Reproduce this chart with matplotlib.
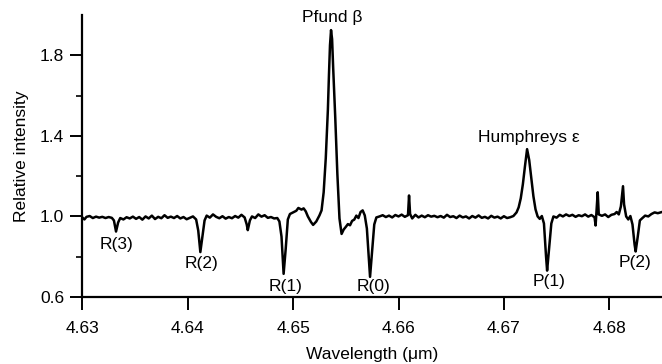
import matplotlib
matplotlib.use('Agg')
import matplotlib.pyplot as plt

# spectrum (wavelength in um, relative intensity)
wavelength = [
    4.6300, 4.6302, 4.6304, 4.6307, 4.6310, 4.6313, 4.6316, 4.6319, 4.6322, 4.6325,
    4.6328, 4.6330, 4.6332, 4.6334, 4.6336, 4.6339, 4.6342, 4.6345, 4.6348, 4.6351,
    4.6354, 4.6357, 4.6360, 4.6363, 4.6366, 4.6369, 4.6372, 4.6375, 4.6378, 4.6381,
    4.6384, 4.6387, 4.6390, 4.6393, 4.6396, 4.6399, 4.6402, 4.6405, 4.6408, 4.6410,
    4.6412, 4.6414, 4.6416, 4.6418, 4.6421, 4.6424, 4.6427, 4.6430, 4.6433, 4.6436,
    4.6439, 4.6442, 4.6445, 4.6448, 4.6451, 4.6454, 4.6456, 4.6457, 4.6459, 4.6461,
    4.6464, 4.6467, 4.6470, 4.6473, 4.6476, 4.6479, 4.6482, 4.6485, 4.6487, 4.6489,
    4.6491, 4.6493, 4.6495, 4.6497, 4.6500, 4.6503, 4.6505, 4.6508, 4.6510, 4.6512,
    4.6514, 4.6517, 4.6519, 4.6522, 4.6525, 4.6527, 4.6529, 4.6531, 4.6533, 4.6534,
    4.6535, 4.6536, 4.6537, 4.6538, 4.6540, 4.6542, 4.6544, 4.6546, 4.6548, 4.6550,
    4.6552, 4.6554, 4.6556, 4.6558, 4.6560, 4.6562, 4.6564, 4.6566, 4.6568, 4.6570,
    4.6572, 4.6573, 4.6575, 4.6577, 4.6579, 4.6582, 4.6585, 4.6588, 4.6591, 4.6594,
    4.6597, 4.6600, 4.6603, 4.6606, 4.6609, 4.6610, 4.6611, 4.6613, 4.6616, 4.6619,
    4.6622, 4.6625, 4.6628, 4.6631, 4.6634, 4.6637, 4.6640, 4.6643, 4.6646, 4.6649,
    4.6652, 4.6655, 4.6658, 4.6661, 4.6664, 4.6667, 4.6670, 4.6673, 4.6676, 4.6679,
    4.6682, 4.6685, 4.6688, 4.6691, 4.6694, 4.6697, 4.6700, 4.6703, 4.6706, 4.6709,
    4.6712, 4.6714, 4.6716, 4.6718, 4.6720, 4.6722, 4.6724, 4.6726, 4.6728, 4.6730,
    4.6732, 4.6734, 4.6736, 4.6738, 4.6740, 4.6741, 4.6743, 4.6745, 4.6747, 4.6750,
    4.6753, 4.6756, 4.6759, 4.6762, 4.6765, 4.6768, 4.6771, 4.6774, 4.6777, 4.6780,
    4.6783, 4.6786, 4.6787, 4.6789, 4.6790, 4.6793, 4.6796, 4.6799, 4.6802, 4.6805,
    4.6807, 4.6809, 4.6811, 4.6813, 4.6814, 4.6816, 4.6818, 4.6820, 4.6822, 4.6824,
    4.6825, 4.6827, 4.6829, 4.6831, 4.6834, 4.6837, 4.6840, 4.6843, 4.6846, 4.6850,
]
intensity = [
    0.995, 0.985, 0.998, 1.002, 0.992, 0.999, 0.994, 0.998, 0.992, 0.997,
    0.993, 0.980, 0.925, 0.970, 0.992, 0.985, 0.996, 0.990, 0.999, 0.988,
    0.997, 0.984, 1.000, 0.990, 1.004, 0.987, 0.998, 0.991, 1.006, 0.993,
    0.999, 0.992, 1.002, 0.990, 0.997, 0.986, 0.993, 1.000, 0.985, 0.930,
    0.823, 0.900, 0.980, 1.004, 0.994, 1.010, 0.998, 0.991, 1.001, 0.989,
    0.997, 0.991, 1.002, 0.994, 1.008, 0.995, 0.960, 0.932, 0.980, 1.000,
    0.992, 1.010, 0.999, 1.006, 0.993, 0.997, 0.990, 0.992, 0.975, 0.900,
    0.715, 0.840, 0.985, 1.012, 1.020, 1.028, 1.042, 1.034, 1.040, 1.025,
    1.000, 0.972, 0.958, 0.975, 1.005, 1.030, 1.120, 1.290, 1.530, 1.700,
    1.850, 1.925, 1.880, 1.740, 1.490, 1.210, 0.990, 0.913, 0.935, 0.948,
    0.962, 0.956, 0.978, 0.984, 1.004, 0.992, 1.022, 1.030, 1.005, 0.940,
    0.780, 0.700, 0.830, 0.960, 0.995, 1.000, 1.006, 0.997, 1.004, 0.995,
    1.007, 1.000, 1.009, 0.998, 1.006, 1.104, 1.012, 0.990, 1.008, 0.995,
    1.004, 0.996, 1.006, 0.999, 1.003, 0.996, 1.002, 0.994, 1.008, 0.997,
    1.001, 0.992, 1.004, 0.995, 1.000, 0.990, 1.002, 0.994, 1.005, 0.993,
    0.998, 0.990, 1.003, 0.994, 0.999, 0.990, 1.001, 0.992, 0.996, 1.002,
    1.020, 1.045, 1.090, 1.160, 1.250, 1.334, 1.280, 1.190, 1.100, 1.035,
    1.000, 0.988, 1.002, 0.965, 0.800, 0.731, 0.850, 0.965, 1.000, 0.994,
    1.008, 1.000, 1.010, 1.002, 1.008, 0.998, 1.006, 1.001, 1.010, 0.999,
    1.007, 0.996, 0.955, 1.120, 1.010, 1.003, 1.010, 0.997, 1.008, 1.012,
    1.022, 1.010, 1.050, 1.150, 1.060, 1.000, 0.985, 1.002, 0.960, 0.860,
    0.826, 0.900, 0.980, 0.990, 1.004, 1.000, 1.012, 1.020, 1.016, 1.022,
]

line_labels = ['R(3)', 'R(2)', 'R(1)', 'R(0)', 'P(1)', 'P(2)',
               'Pfund β', 'Humphreys ε']
# where each label sits (data coords)
label_x = [4.6332, 4.64135, 4.64932, 4.65765, 4.67424, 4.68248,
           4.65376, 4.67234]
label_y = [0.860, 0.765, 0.650, 0.650, 0.675, 0.770, 1.988, 1.394]

x_ticks = [4.63, 4.64, 4.65, 4.66, 4.67, 4.68]
y_ticks = [0.6, 1.0, 1.4, 1.8]
y_minor = [0.8, 1.2, 1.6]


def main():
    plt.rcParams['font.family'] = ['Liberation Sans', 'DejaVu Sans']
    plt.rcParams['font.size'] = 12.5

    fig = plt.figure(figsize=(6.62, 3.64), dpi=100)
    ax = fig.add_axes([82.3 / 662, 67 / 364, (662 - 82.3) / 662, 282 / 364])

    ax.plot(wavelength, intensity, color='black', lw=1.8)

    for text, x, y in zip(line_labels, label_x, label_y):
        ax.text(x, y, text, ha='center', va='center', fontsize=12.5)

    ax.set_xlim(4.63, 4.685)
    ax.set_ylim(0.6, 2.0)
    ax.set_xticks(x_ticks)
    ax.set_xticklabels(['%.2f' % t for t in x_ticks])
    ax.set_yticks(y_ticks)
    ax.set_yticklabels(['%.1f' % t for t in y_ticks])
    ax.set_yticks(y_minor, minor=True)

    ax.spines['top'].set_visible(False)
    ax.spines['right'].set_visible(False)
    ax.spines['left'].set_linewidth(1.6)
    ax.spines['bottom'].set_linewidth(1.6)
    ax.tick_params(which='major', length=9, width=1.4, direction='out')
    ax.tick_params(which='minor', length=4, width=1.2, direction='out')
    ax.tick_params(axis='x', pad=8)
    ax.tick_params(axis='y', pad=4)

    ax.set_xlabel('Wavelength (μm)', labelpad=8)
    ax.set_ylabel('Relative intensity', labelpad=8)

    fig.savefig('out.png', dpi=100)


if __name__ == '__main__':
    main()
